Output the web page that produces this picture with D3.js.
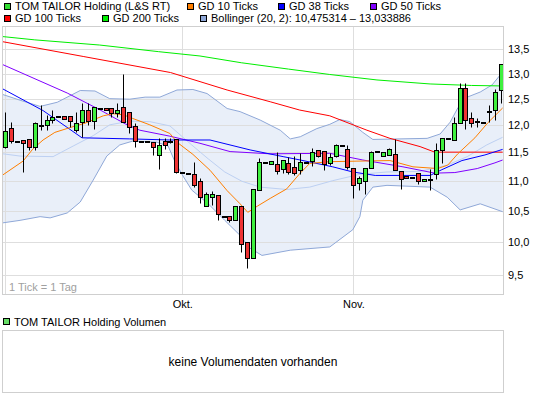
<!DOCTYPE html>
<html>
<head>
<meta charset="utf-8">
<script src="https://cdn.jsdelivr.net/npm/d3@7"></script>
<style>
  html, body { margin: 0; padding: 0; background: #fff; }
  svg text { font-family: "Liberation Sans", Arial, sans-serif; font-size: 11px; }
</style>
</head>
<body>
<svg id="chart" width="545" height="398"></svg>
<script>
// ---- data: daily candles (tick index 0..84) ---------------------------
const opens  = [11.59,11.94,11.70,11.72,11.74,11.59,12.00,11.99,12.09,12.16,
                12.17,12.17,11.91,12.05,12.29,12.08,12.32,12.32,12.31,12.23,
                12.34,12.24,11.97,11.70,11.70,11.69,11.45,11.71,11.71,11.73,
                11.15,11.13,11.11,11.00,10.58,10.73,10.75,10.41,10.41,10.35,
                10.58, 9.99, 9.75,10.84,11.32,11.29,11.29,11.21,11.31,11.23,
                11.18,11.32,11.35,11.54,11.52,11.30,11.43,11.63,11.55,11.22,
                10.96,10.99,11.22,11.52,11.44,11.45,11.46,11.17,11.08,11.06,
                11.14,10.99,11.02,11.12,11.54,11.75,11.72,12.04,12.71,12.12,
                12.07,12.06,12.26,12.28,12.67];
const highs  = [12.25,12.05,11.70,11.72,11.74,12.05,12.37,12.18,12.28,12.16,
                12.17,12.17,12.25,12.41,12.41,12.33,12.32,12.32,12.31,12.41,
                13.00,12.24,12.03,11.70,11.70,11.69,11.75,11.75,11.75,11.73,
                11.15,11.13,11.33,11.04,10.81,10.82,10.75,10.41,10.41,10.58,
                10.58, 9.99,10.85,11.40,11.32,11.34,11.50,11.36,11.41,11.43,
                11.48,11.32,11.57,11.54,11.52,11.48,11.65,11.63,11.63,11.22,
                11.08,11.22,11.52,11.52,11.51,11.58,11.73,11.17,11.08,11.06,
                11.14,11.02,11.20,11.67,11.75,11.75,12.15,12.80,12.80,12.25,
                12.12,12.06,12.37,12.69,13.19];
const lows   = [11.57,11.67,11.70,11.15,11.54,11.54,11.90,11.90,12.03,12.16,
                12.11,11.96,11.86,11.78,12.00,11.93,12.32,12.28,12.14,12.15,
                12.06,11.84,11.59,11.70,11.70,11.45,11.20,11.56,11.66,11.13,
                11.15,11.13,10.89,10.62,10.58,10.59,10.34,10.41,10.31,10.35,
                 9.84, 9.60, 9.75,10.84,11.32,11.29,11.12,11.13,11.12,11.09,
                11.12,11.32,11.25,11.42,11.18,11.27,11.42,11.63,11.21,10.71,
                10.84,10.77,11.22,11.52,11.44,11.45,11.18,10.86,11.05,11.06,
                10.95,10.99,10.84,11.02,11.30,11.75,11.72,12.04,11.92,11.96,
                11.96,12.06,12.06,12.09,12.41];
const closes = [11.89,11.71,11.70,11.66,11.59,12.03,12.00,12.10,12.15,12.16,
                12.11,12.07,12.03,12.28,12.08,12.33,12.32,12.28,12.23,12.29,
                12.06,11.96,11.71,11.70,11.70,11.60,11.63,11.62,11.71,11.15,
                11.15,11.13,10.92,10.73,10.77,10.77,10.44,10.41,10.35,10.58,
                 9.96, 9.75,10.85,11.32,11.32,11.34,11.17,11.36,11.15,11.14,
                11.33,11.32,11.51,11.43,11.29,11.42,11.63,11.63,11.23,10.93,
                11.04,11.22,11.50,11.52,11.51,11.56,11.18,11.02,11.05,11.06,
                10.99,11.02,11.02,11.54,11.75,11.75,12.04,12.71,12.09,12.04,
                12.07,12.06,12.26,12.64,13.19];

// ---- indicator lines as [tick index, value] ----------------------------
const gd10 = [[-0.4,11.10],[3,11.34],[4.7,11.56],[6.4,11.72],[8.4,11.86],[11,11.95],
  [13.5,12.03],[16.6,12.17],[18.3,12.21],[20,12.19],[21.6,12.12],[24.5,12.00],[27.9,11.84],
  [29.1,11.68],[31.8,11.46],[34.7,11.18],[37.6,10.83],[39.8,10.61],[41.1,10.47],[42.7,10.57],
  [44.9,10.70],[47.7,10.86],[49.9,11.12],[51.6,11.30],[55,11.33],[59.6,11.34],[65.2,11.35],
  [69.1,11.24],[73.3,11.21],[75,11.27],[76.7,11.47],[79.6,11.76],[81.8,12.04],[84.3,12.32]];
const gd38 = [[-0.4,12.69],[6.4,12.27],[13,11.76],[21.1,11.74],[27.9,11.72],[34.7,11.72],
  [41.5,11.54],[47.1,11.42],[50,11.36],[55.5,11.24],[58.9,11.15],[62.7,11.09],[72,11.09],
  [74,11.19],[77.4,11.35],[81.3,11.45],[84.3,11.55]];
const gd50 = [[-0.4,13.18],[10.5,12.61],[16.1,12.28],[20.3,12.02],[22.8,11.90],[27.9,11.79],
  [33,11.66],[38.1,11.51],[44.9,11.47],[55,11.48],[60.6,11.36],[67.4,11.24],[72.8,11.13],
  [76.2,11.14],[80,11.21],[83,11.31],[84.3,11.36]];
const gd100 = [[-0.4,13.66],[13.2,13.35],[28,13.02],[37.6,12.67],[44.9,12.44],[49.9,12.28],
  [55,12.17],[61.3,11.90],[65.2,11.75],[70.3,11.60],[72.8,11.50],[84.3,11.50]];
const gd200 = [[-0.4,13.77],[5,13.70],[16,13.59],[26,13.45],[33,13.36],[40,13.22],[48,13.09],
  [55,12.98],[63,12.87],[72,12.79],[79,12.76],[84.3,12.75]];
const bbUpper = [[-0.4,12.58],[2.5,12.47],[5.9,12.35],[8.8,12.43],[12.7,12.66],[15.2,12.65],
  [17.7,12.50],[21.1,12.49],[23.7,12.53],[26.2,12.53],[29.1,12.67],[31.8,12.68],[34.2,12.60],
  [37.6,12.31],[39.8,12.25],[43.2,12.09],[46.6,11.90],[48.3,11.74],[50,11.78],[52.8,11.93],
  [55,12.01],[56.7,12.10],[58.4,12.06],[60.6,11.86],[62.3,11.73],[71.5,11.75],[73.7,11.83],
  [75.4,12.05],[76.7,12.32],[78.3,12.53],[80.5,12.63],[82.5,12.77],[84.3,13.03]];
const bbMid = [[-0.4,11.47],[2.5,11.43],[8.1,11.42],[11.5,11.61],[14.9,11.80],[17.7,12.00],
  [21.1,12.07],[24.5,12.06],[27.9,11.98],[31.6,11.63],[34.4,11.38],[37.2,11.15],[40.1,10.99],
  [43.2,10.89],[47.7,10.85],[51.6,10.89],[55.5,11.00],[60.1,11.11],[64.7,11.15],[70.3,11.16],
  [74.9,11.27],[78.3,11.42],[81.6,11.63],[84.3,11.77]];
const bbLower = [[-0.4,10.30],[2.5,10.34],[5.9,10.40],[7.6,10.38],[10.5,10.46],[12.7,10.64],
  [14.9,11.01],[17.2,11.43],[19.4,11.63],[21.6,11.70],[25.7,11.68],[27.6,11.61],[28.8,11.32],
  [30,11.10],[31.6,10.84],[34.4,10.61],[37.2,10.34],[39.8,10.10],[41.5,9.90],[43.5,9.79],
  [48.3,9.87],[55,9.92],[58.9,10.19],[60.1,10.40],[60.6,10.67],[62.3,10.89],[64.7,10.92],
  [72,10.89],[74.9,10.72],[77.1,10.51],[80.5,10.61],[84.3,10.48]];

// ---- axes / labels -----------------------------------------------------
const yTicks = [9.5, 10, 10.5, 11, 11.5, 12, 12.5, 13, 13.5];
const monthIdx = [0, 30, 59];
const monthLabels = ["", "Okt.", "Nov."];
const legendRow1 = ["TOM TAILOR Holding (L&S RT)", "GD 10 Ticks", "GD 38 Ticks", "GD 50 Ticks"];
const legendRow2 = ["GD 100 Ticks", "GD 200 Ticks", "Bollinger (20, 2): 10,475314 \u2013 13,033886"];

// ---- styles ------------------------------------------------------------
const C = {
  up: "#3ff03f", down: "#ee3333", frame: "#cfcfcf", grid: "#dedede",
  gd10: "#ff7f00", gd38: "#0000ff", gd50: "#8000ff", gd100: "#ff0000", gd200: "#00ee00",
  bb: "#8fa8d8", bbMid: "#bdd0f2", bbFill: "#e9eff9", price: "#33dd33", vol: "#66dd66"
};

const svg = d3.select("#chart");
svg.append("rect").attr("width", 545).attr("height", 398).attr("fill", "#fff");

const L = 3, R = 503, T = 27, B = 294;
const x = d3.scaleLinear().domain([-0.39, 84.36]).range([L, R]);
const y = d3.scaleLog().domain([13.5, 9.5]).range([49.3, 274.7]);
const de = d3.formatLocale({ decimal: ",", thousands: ".", grouping: [3], currency: ["", "€"] });
const fmt = de.format(".1f");
const px = v => Math.round(v) + 0.5;

// ---- legend ------------------------------------------------------------
function legend(items, colors, xs, yy) {
  items.forEach((t, k) => {
    svg.append("rect").attr("x", xs[k] + 0.5).attr("y", yy + 0.5).attr("width", 6).attr("height", 6)
      .attr("fill", colors[k]).attr("stroke", "#000");
    svg.append("text").attr("x", xs[k] + 11).attr("y", yy + 7).attr("fill", "#000").text(t);
  });
}
legend(legendRow1, [C.price, C.gd10, C.gd38, C.gd50], [4, 187, 278, 370], 3);
legend(legendRow2, [C.gd100, C.gd200, C.bb], [4, 102, 200], 15);

// ---- bollinger band fill ----------------------------------------------
const g = svg.append("g");
const bandPts = bbUpper.map((d, k) => d);
const areaPath = d3.line().x(d => x(d[0])).y(d => y(d[1]));
const poly = bbUpper.concat(bbLower.slice().reverse());
g.append("path").attr("d", areaPath(poly) + "Z").attr("fill", C.bbFill);

// ---- grid --------------------------------------------------------------
g.selectAll(".hg").data(yTicks).enter().append("line")
  .attr("x1", L).attr("x2", R).attr("y1", d => px(y(d))).attr("y2", d => px(y(d)))
  .attr("stroke", C.grid);
g.selectAll(".vg").data(monthIdx).enter().append("line")
  .attr("x1", d => px(x(d))).attr("x2", d => px(x(d))).attr("y1", T).attr("y2", B)
  .attr("stroke", C.grid);

g.append("text").attr("x", 9).attr("y", 291).attr("fill", "#a0a0a0").text("1 Tick = 1 Tag");

// ---- indicator lines ---------------------------------------------------
const line = d3.line().x(d => x(d[0])).y(d => y(d[1]));
[[bbUpper, C.bb], [bbLower, C.bb], [bbMid, C.bbMid], [gd200, C.gd200], [gd100, C.gd100],
 [gd50, C.gd50], [gd38, C.gd38], [gd10, C.gd10]].forEach(([data, col]) => {
  g.append("path").attr("d", line(data)).attr("fill", "none").attr("stroke", col).attr("stroke-width", 1);
});

// ---- candles -----------------------------------------------------------
const idx = d3.range(opens.length);
const cg = g.selectAll(".candle").data(idx).enter().append("g");
cg.append("line")
  .attr("x1", i => px(x(i)) - 0.5 + 0.5).attr("x2", i => px(x(i)))
  .attr("y1", i => px(y(highs[i]))).attr("y2", i => px(y(lows[i])))
  .attr("stroke", "#000");
cg.append("rect")
  .attr("x", i => px(x(i)) - 2).attr("width", 4)
  .attr("y", i => px(y(Math.max(opens[i], closes[i]))))
  .attr("height", i => Math.max(1, Math.round(y(Math.min(opens[i], closes[i]))) - Math.round(y(Math.max(opens[i], closes[i])))))
  .attr("fill", i => closes[i] >= opens[i] ? C.up : C.down)
  .attr("stroke", "#000");

// ---- frame + axes ------------------------------------------------------
svg.append("rect").attr("x", L - 0.5).attr("y", T - 0.5).attr("width", R - L + 1).attr("height", B - T + 1)
  .attr("fill", "none").attr("stroke", C.frame);

const ya = svg.append("g").attr("transform", "translate(" + R + ",0)")
  .call(d3.axisRight(y).tickValues(yTicks).tickSize(0).tickPadding(5).tickFormat(fmt));
ya.select(".domain").remove();
ya.selectAll("text").attr("fill", "#000").style("font-size", "11px").style("font-family", "'Liberation Sans', Arial, sans-serif");

const xa = svg.append("g").attr("transform", "translate(0," + B + ")")
  .call(d3.axisBottom(x).tickValues(monthIdx).tickSize(0).tickPadding(6)
    .tickFormat((d, k) => monthLabels[k]));
xa.select(".domain").remove();
xa.selectAll("text").attr("fill", "#000").style("font-size", "11px").style("font-family", "'Liberation Sans', Arial, sans-serif");

// ---- volume panel ------------------------------------------------------
svg.append("rect").attr("x", 3.5).attr("y", 318.5).attr("width", 6).attr("height", 6)
  .attr("fill", C.vol).attr("stroke", "#000");
svg.append("text").attr("x", 14).attr("y", 326).attr("fill", "#000").text("TOM TAILOR Holding Volumen");
svg.append("rect").attr("x", 2.5).attr("y", 330.5).attr("width", 501).attr("height", 62)
  .attr("fill", "#fff").attr("stroke", C.frame);
svg.append("text").attr("x", 253).attr("y", 365.5).attr("text-anchor", "middle")
  .style("font-size", "12px").attr("fill", "#000").text("keine Volumendaten vorhanden");
</script>
</body>
</html>
